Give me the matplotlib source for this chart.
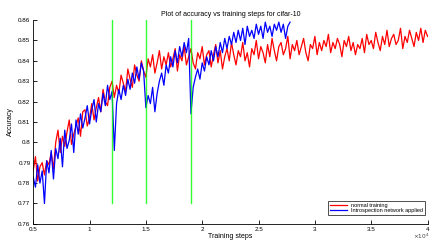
import numpy as np
import matplotlib
matplotlib.use("Agg")
import matplotlib.pyplot as plt
from matplotlib.ticker import FuncFormatter, MultipleLocator

# training steps (every 200 steps)
pasos_normal = np.arange(5000, 40001, 200)
pasos_intro = np.arange(5000, 27801, 200)

# accuracy, normal training
acc_normal = [
    0.786, 0.793, 0.781, 0.788, 0.790, 0.784, 0.791, 0.789, 0.795, 0.787,
    0.800, 0.806, 0.795, 0.803, 0.798, 0.805, 0.811, 0.799, 0.804, 0.808,
    0.812, 0.803, 0.815, 0.816, 0.808, 0.812, 0.819, 0.811, 0.817, 0.822,
    0.815, 0.826, 0.820, 0.818, 0.827, 0.830, 0.822, 0.828, 0.824, 0.833,
    0.829, 0.825, 0.836, 0.831, 0.827, 0.838, 0.833, 0.830, 0.840, 0.835,
    0.832, 0.841, 0.837, 0.843, 0.834, 0.839, 0.845, 0.836, 0.842, 0.838,
    0.844, 0.837, 0.841, 0.846, 0.835, 0.843, 0.840, 0.847, 0.838, 0.842,
    0.846, 0.839, 0.836, 0.844, 0.841, 0.847, 0.838, 0.843, 0.845, 0.837,
    0.843, 0.848, 0.839, 0.845, 0.836, 0.842, 0.846, 0.840, 0.849, 0.843,
    0.838, 0.845, 0.842, 0.849, 0.840, 0.844, 0.837, 0.846, 0.843, 0.850,
    0.841, 0.847, 0.844, 0.839, 0.848, 0.842, 0.851, 0.845, 0.840, 0.847,
    0.849, 0.843, 0.846, 0.852, 0.841, 0.848, 0.845, 0.850, 0.843, 0.847,
    0.851, 0.844, 0.840, 0.848, 0.846, 0.852, 0.843, 0.849, 0.845, 0.850,
    0.847, 0.853, 0.844, 0.849, 0.846, 0.851, 0.848, 0.842, 0.850, 0.847,
    0.852, 0.845, 0.849, 0.843, 0.848, 0.846, 0.851, 0.844, 0.853, 0.848,
    0.850, 0.846, 0.854, 0.849, 0.845, 0.852, 0.848, 0.855, 0.847, 0.851,
    0.853, 0.848, 0.850, 0.856, 0.846, 0.852, 0.849, 0.855, 0.851, 0.847,
    0.854, 0.850, 0.856, 0.849, 0.855, 0.852,
]

# accuracy, introspection network applied
acc_intro = [
    0.783, 0.778, 0.789, 0.780, 0.786, 0.770, 0.791, 0.785, 0.796, 0.782,
    0.797, 0.792, 0.802, 0.788, 0.806, 0.797, 0.801, 0.809, 0.795, 0.811,
    0.804, 0.814, 0.807, 0.812, 0.818, 0.809, 0.816, 0.821, 0.810, 0.819,
    0.815, 0.824, 0.818, 0.828, 0.821, 0.825, 0.796, 0.819, 0.826, 0.821,
    0.828, 0.823, 0.831, 0.826, 0.834, 0.829, 0.837, 0.831, 0.839, 0.835,
    0.817, 0.823, 0.819, 0.827, 0.815, 0.824, 0.830, 0.834, 0.828, 0.838,
    0.834, 0.842, 0.837, 0.845, 0.839, 0.847, 0.842, 0.849, 0.844, 0.851,
    0.814, 0.827, 0.832, 0.836, 0.831, 0.839, 0.835, 0.842, 0.838, 0.845,
    0.840, 0.847, 0.842, 0.849, 0.844, 0.851, 0.846, 0.852, 0.848, 0.854,
    0.849, 0.855, 0.850, 0.856, 0.848, 0.857, 0.852, 0.855, 0.851, 0.858,
    0.853, 0.857, 0.851, 0.859, 0.854, 0.857, 0.852, 0.858, 0.855, 0.859,
    0.854, 0.858, 0.851, 0.857, 0.859,
]

# steps where the introspection network was applied
pasos_salto = [12000, 15000, 19000]

plt.rcParams['font.family'] = ['Liberation Sans', 'DejaVu Sans']

fig = plt.figure(figsize=(4.31, 2.42), dpi=100)
ax = fig.add_axes([0.077, 0.075, 0.915, 0.842])

ax.plot(pasos_normal, acc_normal, color='#ff0000', lw=0.9, label='normal training')
ax.plot(pasos_intro, acc_intro, color='#0000ff', lw=0.9, label='Introspection network applied')
for p in pasos_salto:
    ax.plot([p, p], [0.77, 0.86], color='#00ff00', lw=1.0, alpha=0.8)

ax.set_xlim(5000, 40000)
ax.set_ylim(0.76, 0.86)
ax.xaxis.set_major_locator(MultipleLocator(5000))
ax.yaxis.set_major_locator(MultipleLocator(0.01))
ax.xaxis.set_major_formatter(FuncFormatter(lambda v, p: '%g' % (v / 1e4)))
ax.yaxis.set_major_formatter(FuncFormatter(lambda v, p: '%g' % round(v, 2)))
ax.tick_params(direction='in', length=3, width=0.6, labelsize=4.5, pad=2)
ax.spines['top'].set_visible(False)
ax.spines['right'].set_visible(False)
for s in ['left', 'bottom']:
    ax.spines[s].set_linewidth(0.6)

ax.set_title('Plot of accuracy vs training steps for cifar-10', fontsize=5, pad=3)
ax.set_xlabel('Training steps', fontsize=5, labelpad=1)
ax.set_ylabel('Accuracy', fontsize=5, labelpad=3)
ax.text(1.005, -0.072, r'$\times10^4$', transform=ax.transAxes, fontsize=4.2,
        ha='right', va='baseline', color='#444444')

leg = ax.legend(loc='lower right', fontsize=4, frameon=True, fancybox=False,
                borderpad=0.3, handlelength=3, labelspacing=0.1,
                bbox_to_anchor=(1.0, 0.03))
leg.get_frame().set_edgecolor('black')
leg.get_frame().set_linewidth(0.6)

fig.savefig('out.png', dpi=100)
plt.close()
